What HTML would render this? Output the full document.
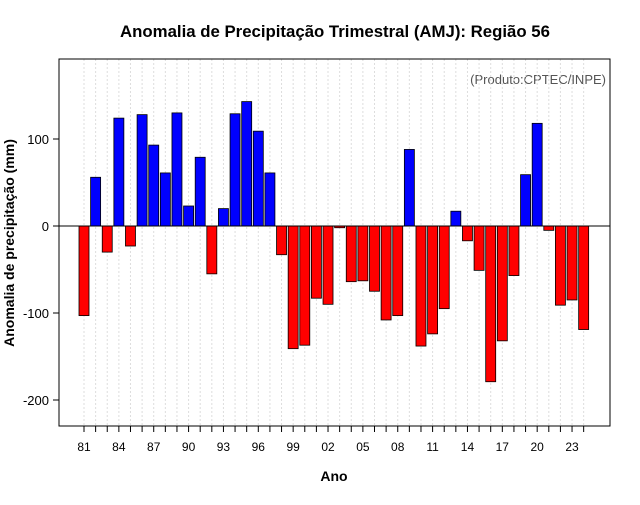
<!DOCTYPE html>
<html><head><meta charset="utf-8"><style>
body{margin:0;background:#fff;width:640px;height:500px;overflow:hidden}
text{font-family:"Liberation Sans",sans-serif}
</style></head><body>
<svg id="chart" width="640" height="500">
<text x="335" y="37" text-anchor="middle" font-size="16.8" font-weight="bold">Anomalia de Precipitação Trimestral (AMJ): Região 56</text>
<text x="606" y="84" text-anchor="end" font-size="13" fill="#555">(Produto:CPTEC/INPE)</text>
<text x="334" y="481" text-anchor="middle" font-size="14" font-weight="bold">Ano</text>
<text transform="translate(14,243) rotate(-90)" text-anchor="middle" font-size="14" font-weight="bold">Anomalia de precipitação (mm)</text>
<g id="grid"></g><g id="bars"></g><g id="axes"></g>
<rect x="59" y="59" width="551" height="367" fill="none" stroke="#000"/>
</svg>
<script>
const years=[81,82,83,84,85,86,87,88,89,90,91,92,93,94,95,96,97,98,99,0,1,2,3,4,5,6,7,8,9,10,11,12,13,14,15,16,17,18,19,20,21,22,23,24];
const values=[-103,56,-30,124,-23,128,93,61,130,23,79,-55,20,129,143,109,61,-33,-141,-137,-83,-90,-2,-64,-63,-75,-108,-103,88,-138,-124,-95,17,-17,-51,-179,-132,-57,59,118,-5,-91,-85,-119];
const yTicks=[-200,-100,0,100];
const xLabels=["81","84","87","90","93","96","99","02","05","08","11","14","17","20","23"];
const NS="http://www.w3.org/2000/svg";
const xs=i=>84+i*11.62;
const ys=v=>226-v*0.87;
function mk(t,a,p){const e=document.createElementNS(NS,t);for(const k in a)e.setAttribute(k,a[k]);p.appendChild(e);return e;}
const grid=document.getElementById('grid'),bars=document.getElementById('bars'),axes=document.getElementById('axes');
years.forEach((y,i)=>{
 const g=mk('line',{x1:xs(i),x2:xs(i),y1:59,y2:426,stroke:'#ddd','stroke-dasharray':'2,2'},grid);
 
 
 const v=values[i];
 const r=mk('rect',{x:xs(i)-5,y:Math.min(ys(v),ys(0)),width:10,height:Math.abs(ys(v)-ys(0)),fill:v>=0?'#0000ff':'#ff0000',stroke:'#000','stroke-width':0.8},bars);
 
 
 const t=mk('line',{x1:xs(i),x2:xs(i),y1:426,y2:432,stroke:'#000'},axes);
 
 
});
const zl=mk('line',{x1:59,x2:610,y1:ys(0),y2:ys(0),stroke:'#000'},axes);


xLabels.forEach((l,j)=>{
 const t=mk('text',{x:xs(j*3),y:451,'text-anchor':'middle','font-size':12},axes);t.textContent=l;
 
 
});
yTicks.forEach(v=>{
 const l=mk('line',{x1:53,x2:59,y1:ys(v),y2:ys(v),stroke:'#000'},axes);
 
 
 const t=mk('text',{x:49,y:ys(v)+5,'text-anchor':'end','font-size':13},axes);t.textContent=v;
 
 
});
</script>
</body></html>
